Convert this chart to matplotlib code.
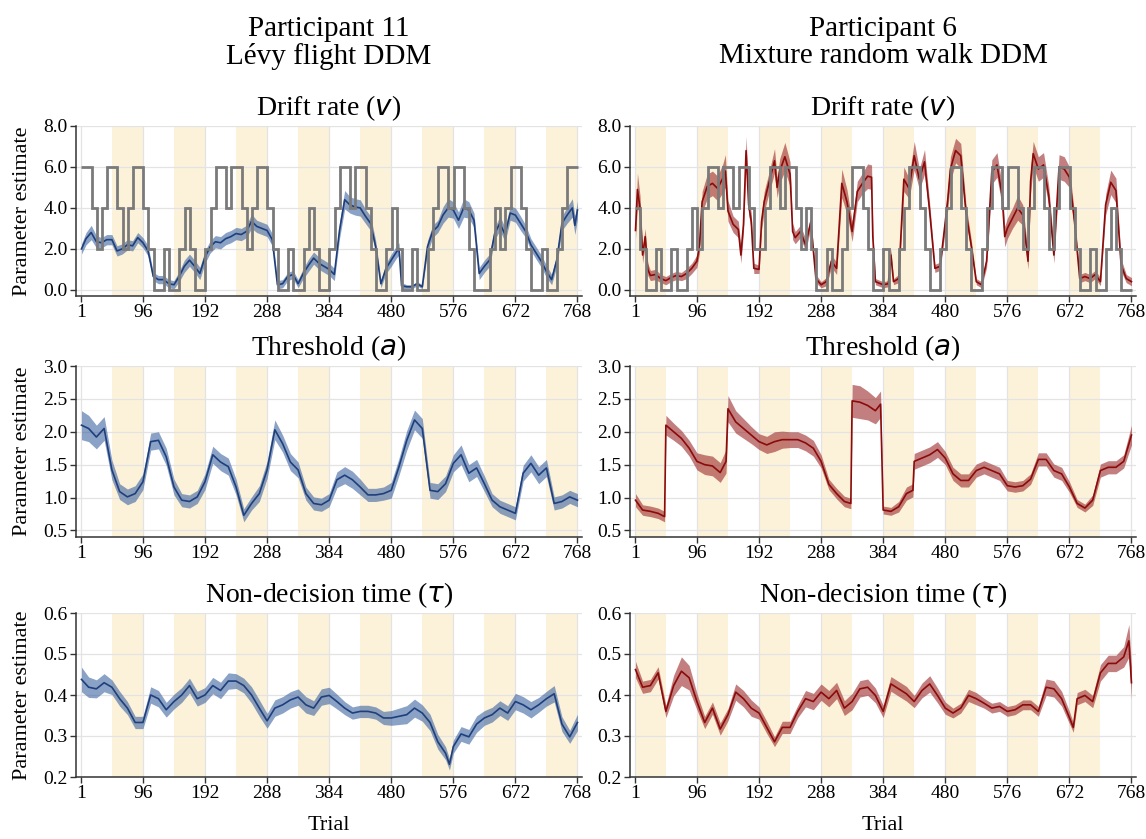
import numpy as np
import matplotlib.pyplot as plt

plt.rcParams['font.family'] = ['Liberation Serif', 'DejaVu Serif']
plt.rcParams['mathtext.fontset'] = 'dejavusans'

# ---------------- data ----------------
xticks = [1, 96, 192, 288, 384, 480, 576, 672, 768]

# true drift, one value per block of 8 trials
true_drift_p11 = [6, 6, 4, 2, 4, 6, 6, 4, 2, 4, 6, 6, 4, 2, 0, 0, 2, 0, 0, 2, 4, 2, 0, 0,
                  2, 4, 6, 6, 4, 6, 6, 4, 2, 4, 6, 6, 4, 2, 0, 0, 2, 0, 0, 2, 4, 2, 0, 0,
                  2, 4, 6, 6, 4, 6, 6, 4, 2, 0, 0, 2, 4, 2, 0, 0, 2, 0, 0, 2, 4, 6, 6, 4,
                  6, 6, 4, 2, 0, 0, 0, 2, 4, 2, 4, 6, 6, 4, 2, 0, 0, 2, 0, 0, 2, 4, 6, 6]
true_drift_p6 = [4, 2, 0, 0, 2, 0, 0, 2, 0, 0, 2, 4, 2, 4, 6, 6, 4, 6, 6, 4, 6, 6, 4, 2,
                 2, 4, 6, 6, 4, 6, 6, 4, 2, 4, 2, 0, 0, 2, 0, 0, 2, 4, 6, 6, 4, 2, 0, 0,
                 2, 0, 0, 2, 4, 6, 6, 4, 2, 0, 0, 2, 4, 6, 6, 4, 2, 0, 0, 2, 4, 6, 6, 4,
                 6, 6, 4, 2, 4, 6, 6, 4, 2, 4, 6, 6, 4, 2, 0, 0, 2, 0, 0, 2, 4, 2, 0, 0]

# participant 11 - drift rate
p11_v_t = [1, 8, 16, 24, 32, 40, 48, 56, 64, 72, 80, 88, 96, 104, 112, 120, 128, 136, 144, 152,
           160, 168, 176, 184, 192, 200, 208, 216, 224, 232, 240, 248, 256, 264, 272, 280, 288,
           296, 304, 312, 320, 328, 336, 344, 352, 360, 368, 376, 384, 392, 400, 408, 416, 424,
           432, 440, 448, 456, 464, 472, 480, 488, 492, 496, 504, 512, 520, 528, 536, 544, 552,
           560, 568, 576, 584, 592, 600, 608, 616, 624, 632, 640, 648, 656, 664, 672, 680, 688,
           696, 704, 712, 720, 728, 736, 744, 752, 760, 764, 768]
p11_v = [2.0, 2.5, 2.8, 2.35, 2.3, 2.45, 2.45, 1.9, 2.0, 2.2, 2.15, 2.55, 2.3, 1.9, 0.65, 0.5,
         0.5, 0.3, 0.25, 0.65, 1.15, 1.45, 1.15, 0.8, 1.6, 2.1, 2.35, 2.3, 2.5, 2.6, 2.75, 2.7,
         2.85, 3.35, 3.1, 3.0, 2.9, 2.45, 0.25, 0.3, 0.65, 0.75, 0.3, 0.8, 1.2, 1.55, 1.3, 1.15,
         1.0, 0.75, 2.9, 4.4, 4.15, 4.05, 4.0, 3.6, 3.25, 2.1, 0.3, 1.05, 1.45, 1.85, 2.0, 0.2,
         0.15, 0.15, 0.3, 0.15, 2.1, 2.85, 3.1, 3.65, 4.0, 3.9, 3.4, 4.0, 3.9, 3.4, 0.8, 1.15,
         1.45, 2.75, 3.25, 2.7, 3.75, 3.65, 3.25, 2.85, 2.2, 1.8, 1.4, 0.9, 0.5, 1.45, 3.25,
         3.65, 4.0, 3.15, 3.9]
p11_v_hw = [0.25, 0.3, 0.35, 0.3, 0.25, 0.25, 0.25, 0.25, 0.25, 0.25, 0.25, 0.25, 0.25, 0.25,
            0.2, 0.2, 0.2, 0.2, 0.2, 0.25, 0.3, 0.3, 0.3, 0.3, 0.3, 0.3, 0.3, 0.3, 0.3, 0.3,
            0.3, 0.3, 0.3, 0.35, 0.3, 0.3, 0.3, 0.3, 0.2, 0.2, 0.2, 0.2, 0.2, 0.25, 0.3, 0.3,
            0.3, 0.3, 0.3, 0.3, 0.4, 0.45, 0.4, 0.4, 0.4, 0.35, 0.35, 0.3, 0.2, 0.25, 0.3, 0.3,
            0.3, 0.15, 0.1, 0.1, 0.1, 0.1, 0.3, 0.3, 0.3, 0.4, 0.45, 0.4, 0.4, 0.45, 0.4, 0.35,
            0.3, 0.3, 0.3, 0.3, 0.35, 0.35, 0.35, 0.35, 0.35, 0.3, 0.3, 0.3, 0.3, 0.3, 0.25,
            0.3, 0.35, 0.4, 0.45, 0.45, 0.45]

# participant 6 - drift rate
p6_v_t = [1, 4, 8, 12, 16, 20, 24, 32, 40, 48, 56, 64, 72, 80, 88, 96, 100, 104, 112, 120, 128,
          136, 140, 144, 152, 160, 164, 168, 172, 176, 180, 184, 192, 196, 200, 208, 216, 220,
          224, 232, 240, 244, 248, 256, 264, 272, 280, 288, 296, 304, 312, 320, 328, 336, 344,
          352, 360, 366, 368, 372, 384, 392, 396, 400, 408, 416, 424, 432, 440, 448, 456, 464,
          472, 480, 484, 488, 496, 504, 512, 520, 528, 536, 544, 552, 560, 568, 572, 576, 584,
          592, 600, 608, 612, 616, 624, 632, 640, 648, 656, 664, 672, 680, 688, 696, 704, 712,
          720, 728, 736, 744, 752, 760, 768]
p6_v = [2.9, 4.9, 4.0, 1.7, 2.6, 1.0, 0.7, 0.75, 0.55, 0.45, 0.6, 0.7, 0.65, 0.8, 1.05, 1.4,
        2.2, 4.3, 5.05, 5.2, 4.95, 5.45, 5.8, 3.85, 3.2, 2.95, 1.7, 3.2, 6.8, 4.15, 3.35, 1.05,
        1.0, 3.35, 4.3, 5.3, 6.3, 5.0, 5.8, 6.5, 5.65, 2.85, 2.55, 2.85, 2.2, 3.3, 0.55, 0.25,
        0.4, 1.4, 1.05, 5.2, 4.3, 2.85, 4.8, 5.2, 5.55, 5.5, 2.6, 0.4, 0.25, 0.3, 1.7, 0.4,
        0.55, 5.4, 4.95, 6.55, 5.4, 6.25, 3.8, 1.05, 1.15, 3.3, 4.45, 5.9, 6.8, 6.55, 3.8, 2.2,
        0.4, 0.25, 1.4, 5.75, 6.1, 4.6, 2.6, 3.0, 3.5, 4.0, 3.65, 1.4, 5.3, 6.65, 5.9, 6.1, 4.6,
        1.7, 6.0, 5.9, 5.5, 3.3, 0.55, 0.65, 0.55, 0.75, 0.4, 4.15, 5.25, 4.85, 1.2, 0.55, 0.4]
p6_v_hw = [0.4, 0.8, 0.6, 0.4, 0.4, 0.3, 0.25, 0.25, 0.2, 0.2, 0.2, 0.2, 0.2, 0.25, 0.25, 0.3,
           0.4, 0.5, 0.6, 0.6, 0.6, 0.7, 0.8, 0.5, 0.4, 0.4, 0.4, 0.4, 0.7, 0.5, 0.4, 0.25,
           0.2, 0.4, 0.5, 0.5, 0.6, 0.5, 0.6, 0.7, 0.6, 0.4, 0.3, 0.3, 0.3, 0.3, 0.2, 0.15,
           0.2, 0.3, 0.3, 0.7, 0.6, 0.5, 0.5, 0.5, 0.6, 0.6, 0.4, 0.15, 0.15, 0.15, 0.3, 0.15,
           0.2, 0.6, 0.5, 0.7, 0.5, 0.6, 0.4, 0.2, 0.2, 0.4, 0.5, 0.6, 0.6, 0.6, 0.4, 0.3,
           0.15, 0.15, 0.3, 0.6, 0.6, 0.5, 0.5, 0.5, 0.5, 0.6, 0.5, 0.4, 0.6, 0.6, 0.6, 0.6,
           0.5, 0.4, 0.6, 0.6, 0.5, 0.4, 0.2, 0.2, 0.2, 0.2, 0.2, 0.5, 0.6, 0.6, 0.3, 0.2, 0.2]

# threshold
p11_a_t = [1, 12, 24, 36, 48, 60, 72, 84, 96, 108, 120, 132, 144, 156, 168, 180, 192, 204, 216,
           228, 240, 252, 264, 276, 288, 300, 312, 324, 336, 348, 360, 372, 384, 396, 408, 420,
           432, 444, 456, 468, 480, 492, 504, 516, 528, 540, 552, 564, 576, 588, 600, 612, 624,
           636, 648, 660, 672, 684, 696, 708, 720, 732, 744, 756, 768]
p11_a = [2.1, 2.05, 1.92, 2.05, 1.42, 1.09, 1.01, 1.06, 1.24, 1.85, 1.87, 1.62, 1.16, 0.96, 0.94,
         1.01, 1.24, 1.65, 1.54, 1.47, 1.16, 0.73, 0.91, 1.06, 1.42, 2.03, 1.82, 1.54, 1.42, 1.06,
         0.91, 0.89, 0.96, 1.27, 1.34, 1.27, 1.16, 1.04, 1.04, 1.06, 1.11, 1.47, 1.87, 2.18, 2.05,
         1.11, 1.09, 1.21, 1.52, 1.65, 1.37, 1.45, 1.21, 0.96, 0.86, 0.81, 0.76, 1.37, 1.52, 1.34,
         1.45, 0.91, 0.94, 1.01, 0.96]
p11_a_hw = [0.22, 0.2, 0.18, 0.18, 0.15, 0.12, 0.12, 0.12, 0.12, 0.13, 0.13, 0.13, 0.12, 0.1,
            0.1, 0.1, 0.12, 0.13, 0.13, 0.13, 0.12, 0.1, 0.1, 0.12, 0.13, 0.15, 0.13, 0.13,
            0.12, 0.1, 0.1, 0.1, 0.1, 0.12, 0.13, 0.13, 0.12, 0.1, 0.1, 0.1, 0.12, 0.13, 0.15,
            0.15, 0.15, 0.12, 0.12, 0.12, 0.13, 0.15, 0.13, 0.13, 0.12, 0.1, 0.1, 0.1, 0.1,
            0.12, 0.13, 0.13, 0.13, 0.1, 0.1, 0.1, 0.1]

p6_a_t = [1, 12, 24, 36, 46, 48, 60, 72, 84, 96, 108, 120, 132, 141, 144, 156, 168, 180, 192,
          204, 216, 228, 240, 252, 264, 276, 288, 300, 312, 324, 334, 336, 348, 360, 372, 380,
          384, 396, 408, 420, 430, 432, 444, 456, 468, 480, 492, 504, 516, 528, 540, 552, 564,
          576, 588, 600, 612, 624, 636, 648, 660, 672, 684, 696, 708, 720, 732, 744, 756, 768]
p6_a = [0.96, 0.81, 0.79, 0.76, 0.71, 2.1, 2.0, 1.9, 1.75, 1.55, 1.5, 1.48, 1.38, 1.55, 2.35,
        2.15, 2.05, 1.95, 1.85, 1.8, 1.85, 1.88, 1.88, 1.88, 1.83, 1.75, 1.55, 1.2, 1.06, 0.94,
        0.91, 2.47, 2.45, 2.4, 2.32, 2.42, 0.81, 0.79, 0.86, 1.06, 1.11, 1.55, 1.6, 1.65, 1.73,
        1.6, 1.36, 1.26, 1.26, 1.41, 1.46, 1.41, 1.36, 1.18, 1.16, 1.18, 1.28, 1.58, 1.58, 1.41,
        1.36, 1.16, 0.91, 0.84, 0.96, 1.41, 1.46, 1.46, 1.55, 1.95]
p6_a_hw = [0.1, 0.08, 0.08, 0.08, 0.08, 0.15, 0.13, 0.12, 0.12, 0.13, 0.15, 0.15, 0.15, 0.18,
           0.2, 0.17, 0.15, 0.13, 0.12, 0.13, 0.15, 0.13, 0.12, 0.12, 0.12, 0.12, 0.1, 0.08,
           0.08, 0.08, 0.08, 0.25, 0.25, 0.22, 0.2, 0.2, 0.06, 0.06, 0.08, 0.1, 0.1, 0.12,
           0.12, 0.12, 0.12, 0.1, 0.1, 0.1, 0.1, 0.1, 0.1, 0.1, 0.1, 0.08, 0.08, 0.08, 0.08,
           0.1, 0.1, 0.1, 0.1, 0.08, 0.06, 0.06, 0.08, 0.1, 0.1, 0.1, 0.1, 0.15]

# non-decision time
p11_t_t = [1, 12, 24, 36, 48, 60, 72, 84, 96, 108, 120, 132, 144, 156, 168, 180, 192, 204, 216,
           228, 240, 252, 264, 276, 288, 300, 312, 324, 336, 348, 360, 372, 384, 396, 408, 420,
           432, 444, 456, 468, 480, 492, 504, 516, 528, 540, 552, 564, 570, 576, 588, 600, 612,
           624, 636, 648, 660, 672, 684, 696, 708, 720, 732, 744, 756, 768]
p11_tau = [0.438, 0.419, 0.415, 0.43, 0.419, 0.391, 0.368, 0.333, 0.333, 0.4, 0.391, 0.364,
           0.384, 0.4, 0.423, 0.391, 0.4, 0.423, 0.411, 0.434, 0.434, 0.423, 0.4, 0.368, 0.337,
           0.368, 0.376, 0.388, 0.395, 0.376, 0.368, 0.395, 0.399, 0.384, 0.368, 0.356, 0.36,
           0.36, 0.356, 0.344, 0.344, 0.348, 0.352, 0.368, 0.356, 0.333, 0.286, 0.258, 0.231,
           0.274, 0.305, 0.298, 0.329, 0.344, 0.352, 0.368, 0.356, 0.384, 0.376, 0.364, 0.376,
           0.391, 0.403, 0.329, 0.298, 0.333]
p11_tau_hw = [0.03, 0.025, 0.022, 0.022, 0.018, 0.018, 0.016, 0.015, 0.015, 0.02, 0.02, 0.018,
              0.018, 0.018, 0.018, 0.018, 0.018, 0.02, 0.02, 0.02, 0.018, 0.018, 0.02, 0.02,
              0.018, 0.02, 0.02, 0.02, 0.02, 0.02, 0.018, 0.02, 0.02, 0.018, 0.016, 0.015,
              0.015, 0.015, 0.015, 0.016, 0.018, 0.02, 0.022, 0.022, 0.02, 0.02, 0.018, 0.016,
              0.014, 0.016, 0.018, 0.018, 0.02, 0.018, 0.018, 0.018, 0.018, 0.02, 0.02, 0.02,
              0.018, 0.018, 0.02, 0.018, 0.016, 0.02]

p6_t_t = [1, 12, 24, 36, 48, 60, 72, 84, 96, 108, 120, 132, 144, 156, 168, 180, 192, 204, 216,
          228, 240, 252, 264, 276, 288, 300, 312, 324, 336, 348, 360, 372, 384, 396, 408, 420,
          432, 444, 456, 468, 480, 492, 504, 516, 528, 540, 552, 564, 576, 588, 600, 612, 624,
          636, 648, 660, 672, 678, 684, 696, 708, 720, 732, 744, 756, 764, 768]
p6_tau = [0.462, 0.419, 0.423, 0.454, 0.36, 0.423, 0.458, 0.442, 0.384, 0.333, 0.368, 0.317,
          0.352, 0.407, 0.391, 0.368, 0.356, 0.321, 0.286, 0.321, 0.321, 0.36, 0.391, 0.384,
          0.407, 0.391, 0.411, 0.368, 0.384, 0.415, 0.419, 0.399, 0.36, 0.427, 0.415, 0.403,
          0.384, 0.411, 0.427, 0.399, 0.368, 0.356, 0.368, 0.399, 0.391, 0.38, 0.368, 0.372,
          0.36, 0.364, 0.376, 0.376, 0.36, 0.419, 0.415, 0.391, 0.345, 0.321, 0.391, 0.399,
          0.384, 0.454, 0.477, 0.477, 0.493, 0.532, 0.43]
p6_tau_hw = [0.02, 0.015, 0.015, 0.015, 0.015, 0.025, 0.035, 0.03, 0.02, 0.015, 0.015, 0.015,
             0.015, 0.02, 0.02, 0.02, 0.015, 0.015, 0.012, 0.015, 0.015, 0.015, 0.02, 0.02,
             0.02, 0.02, 0.02, 0.018, 0.02, 0.02, 0.02, 0.018, 0.015, 0.018, 0.018, 0.018,
             0.015, 0.018, 0.02, 0.018, 0.015, 0.012, 0.012, 0.015, 0.015, 0.012, 0.012,
             0.012, 0.012, 0.012, 0.012, 0.012, 0.012, 0.02, 0.02, 0.018, 0.015, 0.012, 0.015,
             0.015, 0.015, 0.02, 0.02, 0.02, 0.025, 0.04, 0.04]

# shaded blocks (start, end)
bands_p11 = [(48, 96), (144, 192), (240, 288), (336, 384), (432, 480), (528, 576), (624, 672), (720, 768)]
bands_p6 = [(1, 48), (96, 144), (192, 240), (288, 336), (384, 432), (480, 528), (576, 624), (672, 720)]

# ---------------- styling ----------------
band_col = '#fcf2da'
grid_col = '#e3e3e3'
blue_line, blue_fill = '#1f3f7c', '#3d64a0'
red_line, red_fill = '#8b0a0a', '#9c2a2a'
step_col = '#7a7a7a'

fig = plt.figure(figsize=(11.46, 8.39), dpi=100)

W, H = 1146, 839
col_x = [76 / W, 630 / W]
col_w = 506 / W
rows = [(126, 296), (366, 537), (613, 777)]   # top, bottom in px


def make_ax(col, row):
    top, bot = rows[row]
    return fig.add_axes([col_x[col], (H - bot) / H, col_w, (bot - top) / H])


def style_ax(ax, bands):
    for b0, b1 in bands:
        ax.axvspan(b0, b1, color=band_col, lw=0, zorder=0)
    ax.set_xlim(-7.5, 775)
    ax.set_xticks(xticks)
    ax.grid(True, color=grid_col, lw=0.9, zorder=0.5)
    ax.set_axisbelow(True)
    for s in ['top', 'right']:
        ax.spines[s].set_visible(False)
    for s in ['left', 'bottom']:
        ax.spines[s].set_color('#333333')
        ax.spines[s].set_linewidth(1.1)
    ax.tick_params(labelsize=14, length=4, width=1, color='#333333', pad=2)


def draw_series(ax, t, v, hw, lc, fc):
    t = np.asarray(t)
    v = np.asarray(v)
    hw = np.asarray(hw)
    ax.fill_between(t, v - hw, v + hw, color=fc, alpha=0.6, lw=0, zorder=2)
    ax.plot(t, v, color=lc, lw=1.2, zorder=3)


edges = np.arange(0, 769, 8) + 0.5
cols = [
    dict(bands=bands_p11, lc=blue_line, fc=blue_fill, true=true_drift_p11,
         v=(p11_v_t, p11_v, p11_v_hw), a=(p11_a_t, p11_a, p11_a_hw), tau=(p11_t_t, p11_tau, p11_tau_hw),
         title='Participant 11\nLévy flight DDM'),
    dict(bands=bands_p6, lc=red_line, fc=red_fill, true=true_drift_p6,
         v=(p6_v_t, p6_v, p6_v_hw), a=(p6_a_t, p6_a, p6_a_hw), tau=(p6_t_t, p6_tau, p6_tau_hw),
         title='Participant 6\nMixture random walk DDM'),
]

for c, d in enumerate(cols):
    # drift
    ax = make_ax(c, 0)
    style_ax(ax, d['bands'])
    draw_series(ax, *d['v'], d['lc'], d['fc'])
    ax.stairs(d['true'], edges, baseline=None, color=step_col, lw=2, zorder=4)
    ax.set_ylim(-0.3, 8.0)
    ax.set_yticks([0, 2, 4, 6, 8])
    ax.set_yticklabels(['%.1f' % y for y in [0, 2, 4, 6, 8]])
    ax.set_title('Drift rate ($v$)', fontsize=20, pad=8)
    if c == 0:
        ax.set_ylabel('Parameter estimate', fontsize=16, labelpad=8)

    # threshold
    ax = make_ax(c, 1)
    style_ax(ax, d['bands'])
    draw_series(ax, *d['a'], d['lc'], d['fc'])
    ax.set_ylim(0.4, 3.0)
    ax.set_yticks([0.5, 1.0, 1.5, 2.0, 2.5, 3.0])
    ax.set_yticklabels(['%.1f' % y for y in [0.5, 1.0, 1.5, 2.0, 2.5, 3.0]])
    ax.set_title('Threshold ($a$)', fontsize=20, pad=8)
    if c == 0:
        ax.set_ylabel('Parameter estimate', fontsize=16, labelpad=8)

    # non-decision time
    ax = make_ax(c, 2)
    style_ax(ax, d['bands'])
    draw_series(ax, *d['tau'], d['lc'], d['fc'])
    ax.set_ylim(0.2, 0.6)
    ax.set_yticks([0.2, 0.3, 0.4, 0.5, 0.6])
    ax.set_yticklabels(['%.1f' % y for y in [0.2, 0.3, 0.4, 0.5, 0.6]])
    ax.set_title(r'Non-decision time ($\tau$)', fontsize=20, pad=8)
    ax.set_xlabel('Trial', fontsize=16, labelpad=10)
    if c == 0:
        ax.set_ylabel('Parameter estimate', fontsize=16, labelpad=8)

    fig.text(col_x[c] + col_w / 2, 1 - 16 / H, d['title'], ha='center', va='top',
             fontsize=21, linespacing=1.05)

fig.savefig('out.png', dpi=100)
